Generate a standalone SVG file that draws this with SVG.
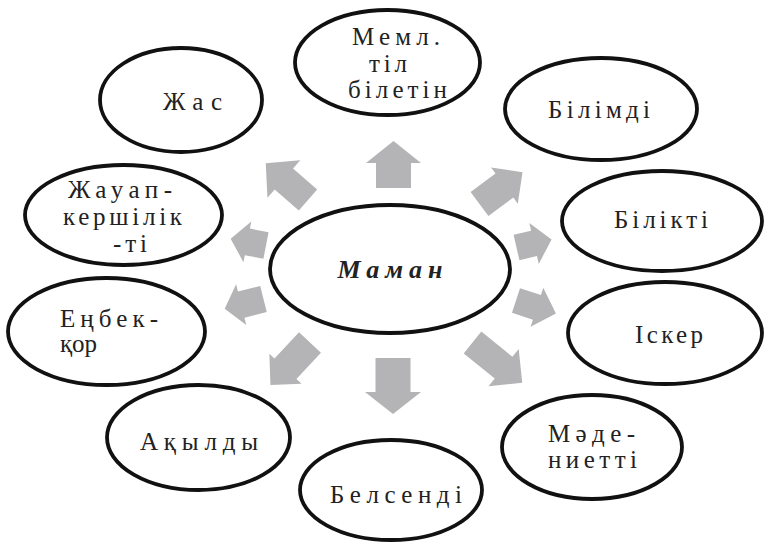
<svg xmlns="http://www.w3.org/2000/svg" width="765" height="543" viewBox="0 0 765 543" font-family="Liberation Serif, DejaVu Serif, serif">
<style>
.n{fill:#fff;stroke:#111;stroke-width:3.8}
text{font-family:'Liberation Serif','DejaVu Serif',serif;font-size:25px;fill:#222}
.c{text-anchor:middle}
.m{font-style:italic;font-weight:bold;font-size:26px}
.a{fill:#b4b4b6}
</style>
<rect width="765" height="543" fill="#fff"/>
<g id="connectors">
<polygon class="a" transform="translate(393.5,188) rotate(-90)" points="0,-17.5 25,-17.5 25,-27.5 47,0 25,27.5 25,17.5 0,17.5"/>
<polygon class="a" transform="translate(393,358) rotate(90)" points="0,-17.5 34,-17.5 34,-28 56,0 34,28 34,17.5 0,17.5"/>
<polygon class="a" transform="translate(308,200) rotate(-139)" points="0,-14 32,-14 32,-25 56,0 32,25 32,14 0,14"/>
<polygon class="a" transform="translate(479.5,204) rotate(-36.5)" points="0,-15 31,-15 31,-22.5 53.5,0 31,22.5 31,15 0,15"/>
<polygon class="a" transform="translate(472.5,342.5) rotate(39)" points="0,-14 40,-14 40,-24 64,0 40,24 40,14 0,14"/>
<polygon class="a" transform="translate(310,342.5) rotate(133)" points="0,-15 36,-15 36,-22 58,0 36,22 36,15 0,15"/>
<polygon class="a" transform="translate(266,245.5) rotate(191)" points="0,-13.5 19,-13.5 19,-20.7 36,0 19,20.7 19,13.5 0,13.5"/>
<polygon class="a" transform="translate(263.5,299) rotate(166)" points="0,-13.5 23,-13.5 23,-21 40,0 23,21 23,13.5 0,13.5"/>
<polygon class="a" transform="translate(516.5,247.5) rotate(-13)" points="0,-13 18,-13 18,-21 36,0 18,21 18,13 0,13"/>
<polygon class="a" transform="translate(516,300.5) rotate(18)" points="0,-13 22,-13 22,-20.5 42,0 22,20.5 22,13 0,13"/>
</g>
<g id="maman"><ellipse class="n" cx="390" cy="269" rx="120" ry="64"/><text class="c m" x="390" y="278" textLength="105">Маман</text></g>
<g id="meml"><ellipse class="n" cx="387.5" cy="62.5" rx="92.5" ry="52.5"/>
<text x="352" y="45" textLength="88">Мемл.</text>
<text x="369" y="72" textLength="38">тіл</text>
<text x="348" y="98" textLength="99">білетін</text></g>
<g id="bilimdi"><ellipse class="n" cx="601" cy="109" rx="96" ry="51"/><text x="548" y="118" textLength="102">Білімді</text></g>
<g id="bilikti"><ellipse class="n" cx="662" cy="221" rx="100" ry="50"/><text x="614" y="228" textLength="94">Білікті</text></g>
<g id="isker"><ellipse class="n" cx="665" cy="333" rx="97" ry="51"/><text x="635" y="343" textLength="68">Іскер</text></g>
<g id="madeniet"><ellipse class="n" cx="592" cy="447" rx="90" ry="52"/>
<text x="548" y="442" textLength="87">Мәде-</text>
<text x="548" y="468" textLength="89">ниетті</text></g>
<g id="belsendi"><ellipse class="n" cx="391" cy="490" rx="91" ry="50"/><text x="330" y="503" textLength="132">Белсенді</text></g>
<g id="akyldy"><ellipse class="n" cx="198.5" cy="437.5" rx="91.5" ry="52.5"/><text x="140" y="450" textLength="118">Ақылды</text></g>
<g id="enbek"><ellipse class="n" cx="106.5" cy="331.5" rx="98.5" ry="53.5"/>
<text x="60" y="327" textLength="98">Еңбек-</text>
<text x="60" y="352" textLength="37">қор</text></g>
<g id="zhauap"><ellipse class="n" cx="123.5" cy="215" rx="98.5" ry="50"/>
<text x="68" y="198" textLength="104">Жауап-</text>
<text x="63" y="225" textLength="119">кершілік</text>
<text x="113" y="252" textLength="34">-ті</text></g>
<g id="zhas"><ellipse class="n" cx="181" cy="100" rx="81" ry="52"/><text x="163" y="110" textLength="59">Жас</text></g>
</svg>
